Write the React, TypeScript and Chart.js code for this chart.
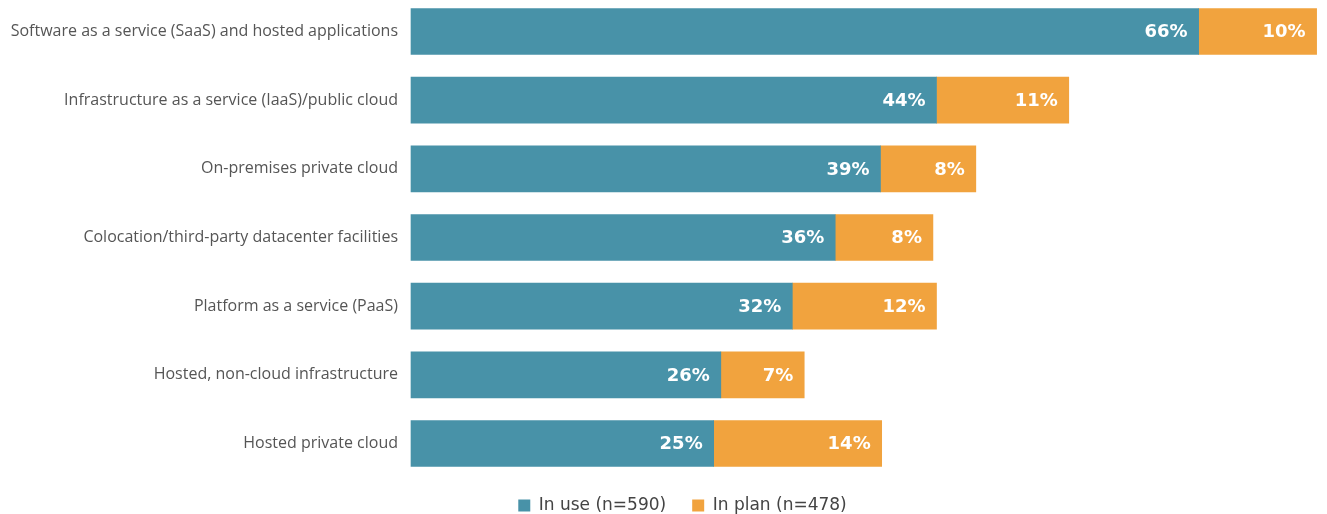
import React, { useEffect, useRef } from "react";
import { Chart, registerables } from "chart.js";

Chart.register(...registerables);

if (typeof document !== "undefined") {
  document.documentElement.style.overflow = "hidden";
  document.body.style.overflow = "hidden";
}

const categories = [
  "Software as a service (SaaS) and hosted applications",
  "Infrastructure as a service (IaaS)/public cloud",
  "On-premises private cloud",
  "Colocation/third-party datacenter facilities",
  "Platform as a service (PaaS)",
  "Hosted, non-cloud infrastructure",
  "Hosted private cloud",
];
// values; labels show the rounded percentages
const inUse = [66.1, 44.1, 39.4, 35.6, 32, 26, 25.4];
const inPlan = [9.9, 11.1, 8, 8.2, 12.1, 7, 14.1];
const seriesNames = ["In use (n=590)", "In plan (n=478)"];
const xMax = 76.2;

const BLUE = "#4892A8";
const ORANGE = "#F1A33E";

const valueLabels = {
  id: "valueLabels",
  afterDatasetsDraw(chart: any) {
    const ctx = chart.ctx;
    ctx.save();
    ctx.font = "bold 18px 'DejaVu Sans'";
    ctx.fillStyle = "#ffffff";
    ctx.textAlign = "right";
    ctx.textBaseline = "middle";
    chart.data.datasets.forEach((ds: any, di: number) => {
      const meta = chart.getDatasetMeta(di);
      meta.data.forEach((el: any, i: number) => {
        ctx.fillText(Math.round(ds.data[i]) + "%", el.x - 11, el.y + 1);
      });
    });
    ctx.restore();
  },
};

const legendShift = {
  id: "legendShift",
  afterLayout(chart: any) {
    if (chart.legend) {
      chart.legend.left += 38;
    }
  },
};

export default function App() {
  const ref = useRef<HTMLCanvasElement | null>(null);
  useEffect(() => {
    if (!ref.current) return;
    const chart = new Chart(ref.current, {
      type: "bar",
      data: {
        labels: categories,
        datasets: [
          { label: seriesNames[0], data: inUse, backgroundColor: BLUE, borderWidth: 0, barThickness: 46, clip: false },
          { label: seriesNames[1], data: inPlan, backgroundColor: ORANGE, borderWidth: 0, barThickness: 46, clip: false },
        ],
      },
      options: {
        indexAxis: "y",
        animation: false,
        responsive: true,
        maintainAspectRatio: false,
        layout: { padding: { left: 0, top: 23.5, right: 0, bottom: 0 } },
        scales: {
          x: {
            stacked: true,
            min: 0,
            max: xMax,
            display: true,
            ticks: { display: false },
            grid: { display: false },
            border: { display: false },
            afterFit: (s: any) => {
              s.height = 27.5;
            },
          },
          y: {
            stacked: true,
            offset: false,
            grid: { display: false, drawTicks: false },
            border: { display: false },
            ticks: {
              padding: 13,
              color: "#555555",
              font: { family: "'Open Sans'", size: 16 },
            },
            afterFit: (s: any) => {
              s.width = 403;
            },
          },
        },
        plugins: {
          tooltip: { enabled: false },
          legend: {
            position: "bottom",
            align: "center",
            labels: {
              boxWidth: 12,
              boxHeight: 12,
              padding: 26,
              color: "#444444",
              font: { family: "'DejaVu Sans'", size: 17 },
            },
          },
        },
      },
      plugins: [valueLabels, legendShift],
    });
    return () => chart.destroy();
  }, []);
  return (
    <div style={{ position: "relative", width: "100%", height: "516px" }}>
      <canvas ref={ref} />
    </div>
  );
}
